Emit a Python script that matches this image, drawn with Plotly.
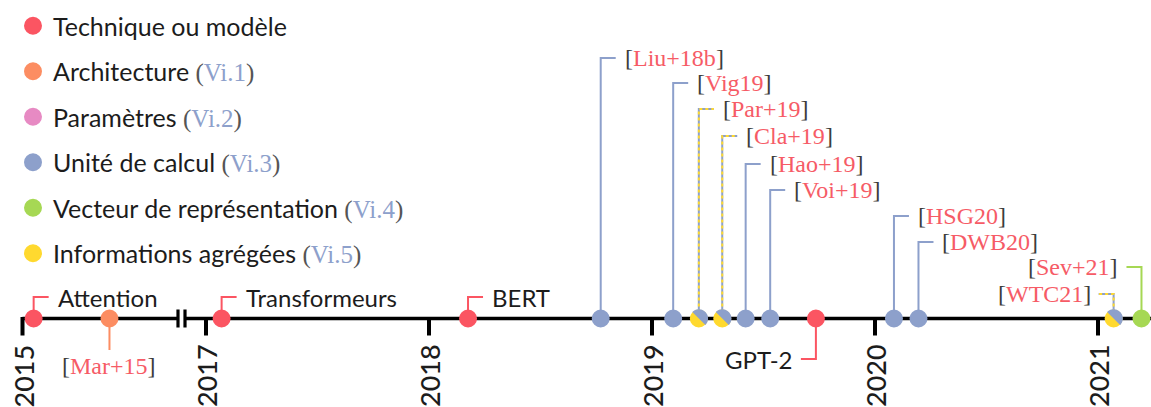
import math
import plotly.graph_objects as go

# ------------------------------------------------------------------ data
categories = ["Technique ou modèle", "Architecture", "Paramètres",
              "Unité de calcul", "Vecteur de représentation", "Informations agrégées"]
category_refs = ["", "Vi.1", "Vi.2", "Vi.3", "Vi.4", "Vi.5"]
category_colors = ["#FB5562", "#FC8D62", "#E78AC3", "#8DA0CB", "#A6D854", "#FFD92F"]

event_labels = ["Attention", "Mar+15", "Transformeurs", "BERT", "Liu+18b", "Vig19",
                "Par+19", "Cla+19", "Hao+19", "Voi+19", "GPT-2", "HSG20", "DWB20",
                "WTC21", "Sev+21"]
# decimal years
event_dates = [2015.05, 2015.39, 2017.07, 2018.175, 2018.77, 2019.095,
               2019.21, 2019.315, 2019.42, 2019.53, 2019.735, 2020.085, 2020.195,
               2021.07, 2021.195]
event_category = [0, 1, 0, 0, 3, 3, 5, 5, 3, 3, 0, 3, 3, 5, 4]
event_second_category = [None, None, None, None, None, None, 3, 3, None, None,
                         None, None, None, 3, None]
event_is_citation = [False, True, False, False, True, True, True, True, True, True,
                     False, True, True, True, True]

year_ticks = [2015, 2017, 2018, 2019, 2020, 2021]
year_labels = ["2015", "2017", "2018", "2019", "2020", "2021"]

# ------------------------------------------------------------------ layout / style
W, H = 1151, 407
PX_PER_YEAR = 223.0
LINE_PX = 318.5          # timeline, pixels from top
BREAK_PX = 181.5         # axis break, pixels from left
Y2015_PX = 22.5
Y2017_PX = 206.0
BAR1_PX, BAR2_PX = 178.0, 185.0

# label placement: pixel level from top, side
label_level_px = [297, 350, 297, 297, 58, 83, 109, 136, 164, 190, 359, 216, 242, 294, 267]
label_side = ["ur", "dc", "ur", "ur", "ur", "ur", "ur", "ur", "ur", "ur", "dl",
              "ur", "ur", "ul", "ul"]

SANS = "Lato"
SERIF = "Liberation Serif"
TEXT_COLOR = "#1c1c1c"
BRACKET_COLOR = "#3c3c3c"
CITE_COLOR = "#F65B66"
CONN = 15.0 / PX_PER_YEAR       # horizontal connector length (years)

x1_range = [2015 - Y2015_PX / PX_PER_YEAR, 2015 + (BREAK_PX - Y2015_PX) / PX_PER_YEAR]
x2_range = [2017 - (Y2017_PX - BREAK_PX) / PX_PER_YEAR, 2017 + (W - Y2017_PX) / PX_PER_YEAR]
y_range = [-(H - LINE_PX), LINE_PX]


def axis_of(d):
    return "x" if d < 2016 else "x2"


fig = go.Figure()

# legend entries (one group per category)
for i, (cat, ref, col) in enumerate(zip(categories, category_refs, category_colors)):
    name = cat
    if ref:
        name += (' <span style="font-family:\'%s\';color:#555">(<span style="color:#8DA0CB">%s</span>)</span>'
                 % (SERIF, ref))
    fig.add_trace(go.Scatter(x=[None], y=[None], mode="markers", xaxis="x2",
                             name=name, legendgroup=cat,
                             marker=dict(size=16, color=col, line=dict(width=2, color=col))))

# timeline
fig.add_trace(go.Scatter(x=[2015, 2015 + (BAR1_PX - Y2015_PX) / PX_PER_YEAR], y=[0, 0],
                         mode="lines", xaxis="x", line=dict(color="black", width=3.5),
                         showlegend=False, hoverinfo="skip"))
fig.add_trace(go.Scatter(x=[2017 - (Y2017_PX - BAR2_PX) / PX_PER_YEAR, x2_range[1]], y=[0, 0],
                         mode="lines", xaxis="x2", line=dict(color="black", width=3.5),
                         showlegend=False, hoverinfo="skip"))
# break bars
for xv, ax in [(2015 + (BAR1_PX - Y2015_PX) / PX_PER_YEAR, "x"),
               (2017 - (Y2017_PX - BAR2_PX) / PX_PER_YEAR, "x2")]:
    fig.add_trace(go.Scatter(x=[xv, xv], y=[-9, 9], mode="lines", xaxis=ax,
                             line=dict(color="black", width=3.2),
                             showlegend=False, hoverinfo="skip"))
# year ticks + labels
for yr, lab in zip(year_ticks, year_labels):
    ax = axis_of(yr)
    fig.add_trace(go.Scatter(x=[yr, yr], y=[1.5, -17], mode="lines", xaxis=ax,
                             line=dict(color="black", width=4),
                             showlegend=False, hoverinfo="skip"))
    fig.add_annotation(x=yr, y=-24, xref=ax, yref="y", text=lab, showarrow=False,
                       textangle=-90, xanchor="center", yanchor="top",
                       font=dict(family=SANS, size=27, color=TEXT_COLOR, weight=500))

# connectors and labels
for lab, d, c, c2, cite, lvl, side in zip(event_labels, event_dates, event_category,
                                           event_second_category, event_is_citation,
                                           label_level_px, label_side):
    ax = axis_of(d)
    yl = LINE_PX - lvl
    if side == "ur":
        xs, ys = [d, d, d + CONN], [0, yl, yl]
    elif side in ("ul", "dl"):
        xs, ys = [d, d, d - CONN], [0, yl, yl]
    else:
        xs, ys = [d, d], [0, yl]
    col = category_colors[c]
    if c2 is not None:
        fig.add_trace(go.Scatter(x=xs, y=ys, mode="lines", xaxis=ax,
                                 line=dict(color=category_colors[c2], width=2),
                                 showlegend=False, hoverinfo="skip", legendgroup=categories[c2]))
        fig.add_trace(go.Scatter(x=xs, y=ys, mode="lines", xaxis=ax,
                                 line=dict(color=col, width=2, dash="3px,3px"),
                                 showlegend=False, hoverinfo="skip", legendgroup=categories[c]))
    else:
        fig.add_trace(go.Scatter(x=xs, y=ys, mode="lines", xaxis=ax,
                                 line=dict(color=col, width=2),
                                 showlegend=False, hoverinfo="skip", legendgroup=categories[c]))

    if cite:
        text = ('<span style="color:%s">[</span>%s<span style="color:%s">]</span>'
                % (BRACKET_COLOR, lab, BRACKET_COLOR))
        font = dict(family=SERIF, size=24, color=CITE_COLOR)
    else:
        text = lab
        font = dict(family=SANS, size=24, color=TEXT_COLOR)
    if side == "ur":
        kw = dict(xanchor="left", yanchor="middle", xshift=22)
    elif side in ("ul", "dl"):
        kw = dict(xanchor="right", yanchor="middle", xshift=-21)
    else:
        kw = dict(xanchor="center", yanchor="top", yshift=-1)
    fig.add_annotation(x=d, y=yl, xref=ax, yref="y", text=text, showarrow=False,
                       font=font, **kw)

# dots (one trace per category and axis)
for ci, cat in enumerate(categories):
    for ax in ("x", "x2"):
        xs = [d for d, c in zip(event_dates, event_category) if c == ci and axis_of(d) == ax]
        names = [l for l, d, c in zip(event_labels, event_dates, event_category)
                 if c == ci and axis_of(d) == ax]
        if not xs:
            continue
        fig.add_trace(go.Scatter(x=xs, y=[0] * len(xs), mode="markers", xaxis=ax,
                                 text=names, hovertemplate="%{text}<extra>" + cat + "</extra>",
                                 marker=dict(size=16, color=category_colors[ci],
                                             line=dict(width=2, color=category_colors[ci])),
                                 cliponaxis=False, showlegend=False, legendgroup=cat))

# half-circle overlay for split markers (top-right half)
R = 9.2
for d, c2 in zip(event_dates, event_second_category):
    if c2 is None:
        continue
    pts = []
    for k in range(0, 37):
        a = math.radians(-45 + 180 * k / 36)
        pts.append("%.2f,%.2f" % (R * math.cos(a), R * math.sin(a)))
    path = "M " + " L ".join(pts) + " Z"
    fig.add_shape(type="path", path=path, xref=axis_of(d), yref="y",
                  xsizemode="pixel", ysizemode="pixel", xanchor=d, yanchor=0,
                  fillcolor=category_colors[c2], line=dict(width=0), layer="above")

fig.update_layout(
    width=W, height=H,
    margin=dict(l=0, r=0, t=0, b=0),
    paper_bgcolor="white", plot_bgcolor="white",
    xaxis=dict(domain=[0, BREAK_PX / W], range=x1_range, visible=False, fixedrange=True),
    xaxis2=dict(domain=[BREAK_PX / W, 1], range=x2_range, visible=False, fixedrange=True),
    yaxis=dict(range=y_range, visible=False, fixedrange=True),
    showlegend=True,
    legend=dict(x=13 / W, y=1 - 3 / H, xanchor="left", yanchor="top",
                bgcolor="rgba(0,0,0,0)", borderwidth=0,
                font=dict(family=SANS, size=25, color=TEXT_COLOR),
                traceorder="grouped", tracegroupgap=10, itemsizing="trace"),
)

fig.write_html("out.html", config={"displayModeBar": False},
               post_script="document.body.style.margin='0px';")
